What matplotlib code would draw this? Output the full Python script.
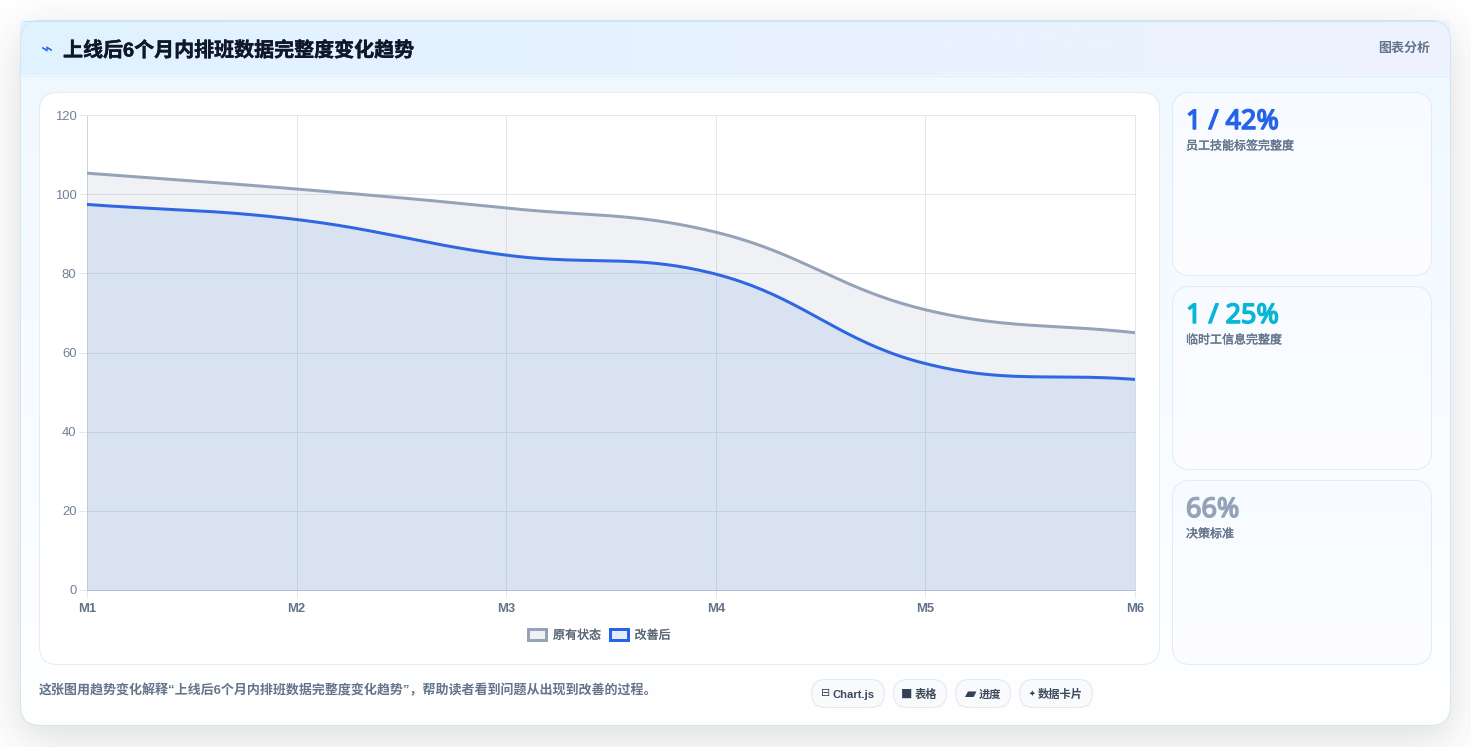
import math
import numpy as np
import matplotlib
matplotlib.use("Agg")
import matplotlib.pyplot as plt
from matplotlib.patches import FancyBboxPatch, Patch
from matplotlib import patheffects as pe

# ---- data ----
months = ["M1", "M2", "M3", "M4", "M5", "M6"]
original = [105.3, 101.3, 96.5, 90.4, 70.8, 65.0]
improved = [97.4, 93.6, 84.6, 79.8, 57.2, 53.2]
series_names = ["原有状态", "改善后"]
y_ticks = [0, 20, 40, 60, 80, 100, 120]

title = "上线后6个月内排班数据完整度变化趋势"
badge = "图表分析"
caption = "这张图用趋势变化解释“上线后6个月内排班数据完整度变化趋势”，帮助读者看到问题从出现到改善的过程。"
stat_values = ["1 / 42%", "1 / 25%", "66%"]
stat_labels = ["员工技能标签完整度", "临时工信息完整度", "决策标准"]
stat_colors = ["#2563eb", "#06b6d4", "#94a3b8"]
pill_labels = ["Chart.js", "表格", "进度", "数据卡片"]
pill_icons = ["⊟", "■", "▰", "✦"]

W, H = 1471, 747
CJK = ["Liberation Sans", "Noto Sans CJK SC", "DejaVu Sans"]
plt.rcParams["font.family"] = CJK
LW = 0.72  # one pixel, in points


def px(v):
    """Font size in points for a size given in pixels at 100 dpi."""
    return v * 0.72


def heavier(color, amount):
    """Thin outline that thickens a regular-weight glyph."""
    return [pe.withStroke(linewidth=amount, foreground=color)]


fig = plt.figure(figsize=(W / 100, H / 100), dpi=100, facecolor="white")
page = fig.add_axes([0, 0, 1, 1], zorder=0)
page.set_xlim(0, W)
page.set_ylim(H, 0)
page.axis("off")


def box(x0, y0, x1, y1, r, **kw):
    p = FancyBboxPatch((x0 + r, y0 + r), x1 - x0 - 2 * r, y1 - y0 - 2 * r,
                       boxstyle=f"round,pad={r},rounding_size={r}", **kw)
    page.add_patch(p)
    return p


def gradient(clip, extent, c0, c1, horizontal=False, z=1):
    c0 = np.array(matplotlib.colors.to_rgb(c0))
    c1 = np.array(matplotlib.colors.to_rgb(c1))
    t = np.linspace(0, 1, 256)[:, None] * (c1 - c0) + c0
    img = t[None, :, :] if horizontal else t[:, None, :]
    im = page.imshow(img, extent=extent, aspect="auto", zorder=z,
                     interpolation="bilinear")
    im.set_clip_path(clip)
    page.set_xlim(0, W)
    page.set_ylim(H, 0)
    return im


# soft drop shadow under the main card
erf = np.vectorize(math.erf)
xx = np.arange(W) + 0.5
yy = np.arange(H) + 0.5
sigma = 22.0
sx = 0.5 * (erf((xx - 20) / (sigma * 2**0.5)) - erf((xx - 1451) / (sigma * 2**0.5)))
sy = 0.5 * (erf((yy - 32) / (sigma * 2**0.5)) - erf((yy - 738) / (sigma * 2**0.5)))
shadow = np.zeros((H, W, 4))
shadow[..., :3] = matplotlib.colors.to_rgb("#22262e")
shadow[..., 3] = np.outer(sy, sx) * 0.16
page.imshow(shadow, extent=(0, W, H, 0), aspect="auto", zorder=0.5)

# main card
card_clip = box(20.5, 20.5, 1450.5, 725.5, 20, fc="white", ec="none", zorder=0.8)
gradient(card_clip, (20, 1451, 726, 20), "#eff8ff", "#ffffff", z=1)
box(20.5, 20.5, 1450.5, 725.5, 20, fc="none", ec="#cfe6f5", lw=LW, zorder=3)

# header band, nearly square at the outer corners
header = box(20.5, 20.5, 1450.5, 75.5, 3, fc="none", ec="none", zorder=2)
gradient(header, (20.5, 1450.5, 75.5, 20.5), "#e0f2fe", "#eef2ff", horizontal=True, z=2)
page.plot([20.5, 1450.5], [75.5, 75.5], color="#e2eefa", lw=LW, zorder=3)
page.plot([24, 1436], [20.5, 20.5], color="#c8e4f8", lw=LW, zorder=3)

page.text(47, 50, "⌁", color="#2563eb", fontsize=px(20), family="DejaVu Sans",
          ha="center", va="center", zorder=5)
page.text(63, 50.5, title, color="#0f172a", fontsize=px(20), weight="bold",
          ha="left", va="center", zorder=5, path_effects=heavier("#0f172a", 0.3))
page.text(1430, 49, badge, color="#64748b", fontsize=px(13), weight="bold",
          ha="right", va="center", zorder=5)

# panel behind the chart
box(39.5, 92.5, 1159.5, 664.5, 18, fc="white", ec="#e2ecf5", lw=LW, zorder=3)

# stat cards
for top, bottom, value, label, color in zip((93, 287, 481), (275, 469, 664),
                                            stat_values, stat_labels, stat_colors):
    c = box(1172.5, top - .5, 1431.5, bottom + .5, 18, fc="none", ec="none", zorder=3)
    gradient(c, (1172, 1432, bottom + 1, top - 1), "#f7fbff", "#fdfdff", z=3)
    box(1172.5, top - .5, 1431.5, bottom + .5, 18, fc="none", ec="#e0ecf8", lw=LW, zorder=4)
    page.text(1186, top + 29, value, color=color, fontsize=px(27), weight="bold",
              family="Noto Sans", ha="left", va="center", zorder=5,
              path_effects=heavier(color, 1.1))
    page.text(1186, top + 53.5, label, color="#64748b", fontsize=px(12), weight="regular",
              ha="left", va="center", zorder=5, path_effects=heavier("#64748b", 0.25))

page.text(39, 690.5, caption, color="#64748b", fontsize=px(13), weight="bold",
          ha="left", va="center", zorder=5)

# chips under the chart: outer span, icon centre, label start, icon size
chips = [(811, 885, 826, 833, 11), (893, 947, 907, 915, 12),
         (955, 1011, 971, 979, 15), (1019, 1093, 1032, 1038, 8)]
for (x0, x1, xi, xt, size), icon, label in zip(chips, pill_icons, pill_labels):
    box(x0 + .5, 679.5, x1 - .5, 707.5, 14, fc="#f8fafc", ec="#e2e8f0", lw=LW, zorder=4)
    page.text(xi, 693.5, icon, color="#334155", fontsize=px(size), family="DejaVu Sans",
              ha="center", va="center", zorder=5)
    page.text(xt, 694.5, label, color="#3d4a5c", fontsize=px(11.3), weight="bold",
              ha="left", va="center", zorder=5)

# line chart
ax = fig.add_axes([87 / W, 1 - 590 / H, 1048 / W, 475 / H], zorder=2)
ax.patch.set_alpha(0)
x_idx = np.arange(len(months))


def smooth(values, tension=0.4, step=40):
    """Cubic Bezier through the points, with control points scaled by neighbour distance."""
    sx_, sy_ = 209.6, 3.958  # screen px per data unit, keeps the curve shape true to the axes
    pts = np.column_stack([x_idx * sx_, np.asarray(values) * sy_])
    n = len(pts)
    prev_c, next_c = np.zeros_like(pts), np.zeros_like(pts)
    for i in range(n):
        a, b, c = pts[max(i - 1, 0)], pts[i], pts[min(i + 1, n - 1)]
        d01, d12 = np.hypot(*(b - a)), np.hypot(*(c - b))
        tot = d01 + d12
        prev_c[i] = b - tension * d01 / tot * (c - a)
        next_c[i] = b + tension * d12 / tot * (c - a)
    out = [pts[0][None, :]]
    t = np.linspace(0, 1, step + 1)[1:, None]
    for i in range(n - 1):
        p0, p1, p2, p3 = pts[i], next_c[i], prev_c[i + 1], pts[i + 1]
        out.append((1 - t)**3 * p0 + 3 * (1 - t)**2 * t * p1 + 3 * (1 - t) * t**2 * p2 + t**3 * p3)
    out = np.vstack(out)
    return out[:, 0] / sx_, out[:, 1] / sy_


styles = ((original, "#94a3b8", "#94a3b8", 0.15, 3),
          (improved, "#2f66e2", "#1464d2", 0.10, 4))
for vals, line_col, fill_col, fill_a, z in styles:
    cx, cy = smooth(vals)
    ax.fill_between(cx, 0, cy, color=fill_col, alpha=fill_a, lw=0, zorder=z)
    ax.plot(cx, cy, color=line_col, lw=3 * LW, zorder=z + 2, solid_capstyle="butt")

ax.set_xlim(0, 5)
ax.set_ylim(0, 120)
ax.set_xticks(x_idx, months)
ax.set_yticks(y_ticks)
ax.grid(True, color="#e2e8f0", lw=LW, zorder=0)
ax.set_axisbelow(True)
for side, spine in ax.spines.items():
    spine.set_color("#e2e8f0")
    spine.set_linewidth(LW)
ax.spines["left"].set_color("#cbd5e1")
ax.spines["bottom"].set_color("#bcc8da")
ax.tick_params(axis="y", length=8 * LW, width=LW, color="#e2e8f0", labelcolor="#718096",
               labelsize=px(13), pad=1.8)
ax.tick_params(axis="x", length=8 * LW, width=LW, color="#e2e8f0", labelcolor="#64748b",
               labelsize=px(13), pad=3.8)
for lab in ax.get_xticklabels():
    lab.set_fontweight("bold")

handles = [Patch(facecolor=matplotlib.colors.to_rgba("#94a3b8", 0.15), edgecolor="#94a3b8", lw=3 * LW),
           Patch(facecolor=matplotlib.colors.to_rgba("#2563eb", 0.12), edgecolor="#2563eb", lw=3 * LW)]
leg = ax.legend(handles, series_names, loc="center", ncol=2, frameon=False,
                bbox_to_anchor=(599.5 / W, 1 - 635.5 / H), bbox_transform=fig.transFigure,
                prop={"size": px(12), "family": CJK},
                labelcolor="#5b6675", borderpad=0,
                handlelength=1.5, handleheight=1.05, handletextpad=0.55, columnspacing=0.75)
for txt in leg.get_texts():
    txt.set_path_effects(heavier("#5b6675", 0.2))

fig.savefig("out.png", dpi=100, facecolor="white")
